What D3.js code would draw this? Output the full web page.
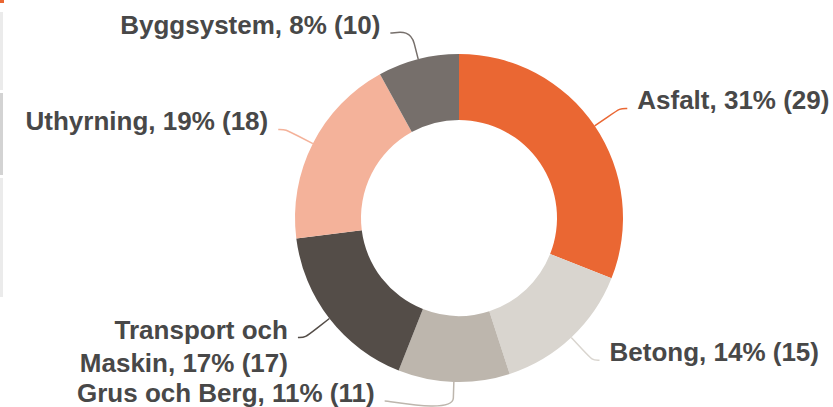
<!DOCTYPE html>
<html>
<head>
<meta charset="utf-8">
<script src="https://cdn.jsdelivr.net/npm/d3@7"></script>
<style>
  body { margin: 0; background: #fff; }
  svg { display: block; }
  .lbl { font-family: "Liberation Sans", Arial, sans-serif; font-weight: bold; font-size: 26px; fill: #484848; }
</style>
</head>
<body>
<script>
const categories = ["Asfalt", "Betong", "Grus och Berg", "Transport och Maskin", "Uthyrning", "Byggsystem"];
const shares = [31, 14, 11, 17, 19, 8];
const counts = [29, 15, 11, 17, 18, 10];
const colors = ["#ea6733", "#d9d5cf", "#bdb6ad", "#544d48", "#f4b29a", "#766f6b"];

const width = 833,
      height = 407,
      cx = 459,
      cy = 218,
      outerR = 164,
      innerR = 98,
      labelR = 195;

function init() {
    let svg = d3.select("body")
        .append("svg")
        .attr("width", width)
        .attr("height", height);

    // bits of the surrounding page at the left edge
    svg.append("rect").attr("x", 0).attr("y", 0).attr("width", 4).attr("height", 3).attr("fill", "#ea6733");
    svg.append("rect").attr("x", 0).attr("y", 12).attr("width", 3).attr("height", 78).attr("fill", "#ebebeb");
    svg.append("rect").attr("x", 0).attr("y", 93).attr("width", 3).attr("height", 82).attr("fill", "#d3d3d3");
    svg.append("rect").attr("x", 0).attr("y", 178).attr("width", 3).attr("height", 119).attr("fill", "#ebebeb");

    let data = categories.map(function(c, i) {
        return {name: c, share: shares[i], count: counts[i], color: colors[i]};
    });

    let pie = d3.pie().sort(null).value(function(d) {return d.share;});
    let arcs = pie(data);

    let arc = d3.arc().innerRadius(innerR).outerRadius(outerR);

    let g = svg.append("g").attr("transform", "translate(" + cx + "," + cy + ")");

    g.selectAll(".slice")
        .data(arcs)
        .enter()
        .append("path")
        .attr("class", "slice")
        .attr("d", arc)
        .attr("fill", function(d) {return d.data.color;});

    function pt(a, r) {
        return [cx + r * Math.sin(a), cy - r * Math.cos(a)];
    }

    arcs.forEach(function(d) {
        let mid = (d.startAngle + d.endAngle) / 2;
        let side = mid < Math.PI ? 1 : -1;
        let y = cy - labelR * Math.cos(mid);
        y = Math.max(33, Math.min(401, y));
        let x = cx + side * Math.sqrt(Math.max(0, labelR * labelR - (y - cy) * (y - cy)));

        let touch = pt(mid, outerR);
        let brk = pt(mid, outerR + 16);
        let ctrl = [2 * brk[0] - touch[0], 2 * brk[1] - touch[1]];

        let path = d3.path();
        path.moveTo(x + side * 7, y);
        path.bezierCurveTo(x, y, ctrl[0], ctrl[1], brk[0], brk[1]);
        path.lineTo(touch[0], touch[1]);

        svg.append("path")
            .attr("d", path.toString())
            .attr("fill", "none")
            .attr("stroke", d.data.color)
            .attr("stroke-width", 1.5);

        let tx = x + side * 17;
        let full = d.data.name + ", " + d.data.share + "% (" + d.data.count + ")";
        let text = svg.append("text")
            .attr("class", "lbl")
            .attr("x", tx)
            .attr("y", y + 1)
            .attr("text-anchor", side > 0 ? "start" : "end")
            .text(full);

        // wrap the last word of the name onto a second line if it does not fit
        let words = d.data.name.split(" ");
        let avail = side > 0 ? width - tx : tx - 5;
        if (words.length > 1 && text.node().getComputedTextLength() > avail) {
            let last = words.pop();
            text.text(null);
            text.append("tspan").attr("x", tx).attr("dy", 0).text(words.join(" "));
            text.append("tspan").attr("x", tx).attr("dy", 33)
                .text(last + ", " + d.data.share + "% (" + d.data.count + ")");
        }
    });
}

window.onload = init;
</script>
</body>
</html>
